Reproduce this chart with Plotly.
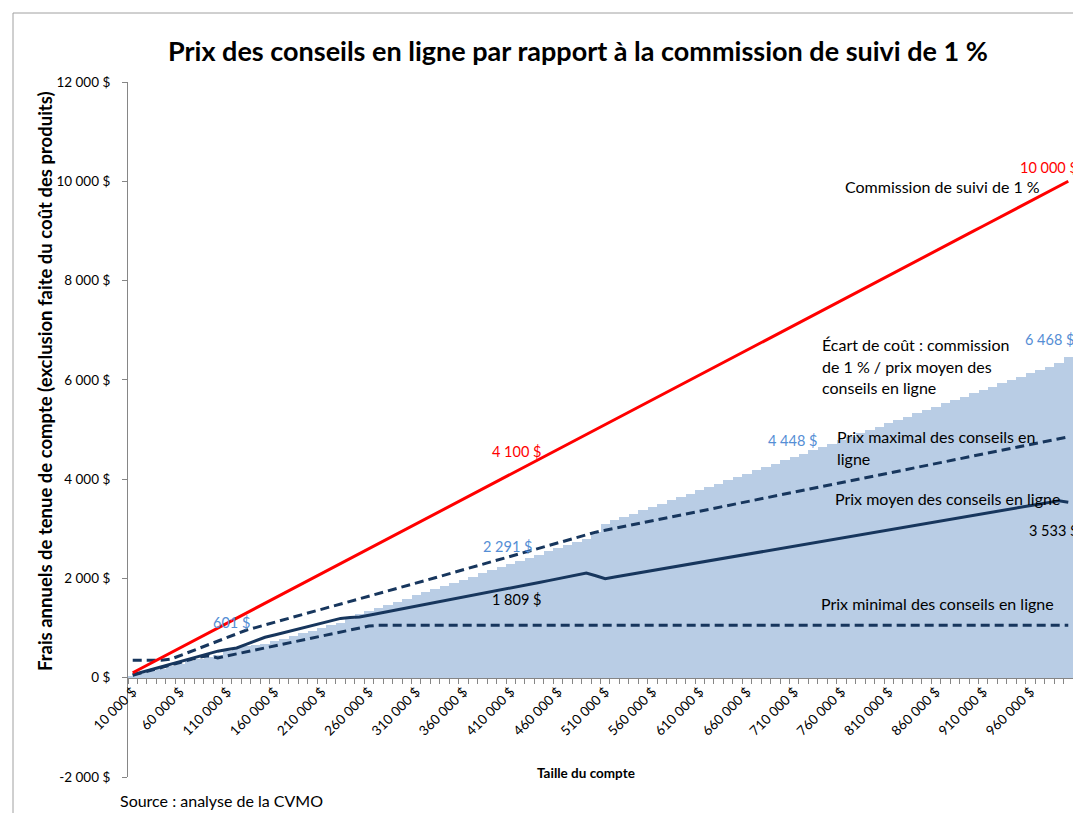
import plotly.graph_objects as go

# ---------------- data ----------------
account_sizes = [
    10000, 20000, 30000, 40000, 50000, 60000, 70000, 80000, 90000, 100000,
    110000, 120000, 130000, 140000, 150000, 160000, 170000, 180000, 190000, 200000,
    210000, 220000, 230000, 240000, 250000, 260000, 270000, 280000, 290000, 300000,
    310000, 320000, 330000, 340000, 350000, 360000, 370000, 380000, 390000, 400000,
    410000, 420000, 430000, 440000, 450000, 460000, 470000, 480000, 490000, 500000,
    510000, 520000, 530000, 540000, 550000, 560000, 570000, 580000, 590000, 600000,
    610000, 620000, 630000, 640000, 650000, 660000, 670000, 680000, 690000, 700000,
    710000, 720000, 730000, 740000, 750000, 760000, 770000, 780000, 790000, 800000,
    810000, 820000, 830000, 840000, 850000, 860000, 870000, 880000, 890000, 900000,
    910000, 920000, 930000, 940000, 950000, 960000, 970000, 980000, 990000, 1000000,
]

trailing_1pct = [
    100, 200, 300, 400, 500, 600, 700, 800, 900, 1000,
    1100, 1200, 1300, 1400, 1500, 1600, 1700, 1800, 1900, 2000,
    2100, 2200, 2300, 2400, 2500, 2600, 2700, 2800, 2900, 3000,
    3100, 3200, 3300, 3400, 3500, 3600, 3700, 3800, 3900, 4000,
    4100, 4200, 4300, 4400, 4500, 4600, 4700, 4800, 4900, 5000,
    5100, 5200, 5300, 5400, 5500, 5600, 5700, 5800, 5900, 6000,
    6100, 6200, 6300, 6400, 6500, 6600, 6700, 6800, 6900, 7000,
    7100, 7200, 7300, 7400, 7500, 7600, 7700, 7800, 7900, 8000,
    8100, 8200, 8300, 8400, 8500, 8600, 8700, 8800, 8900, 9000,
    9100, 9200, 9300, 9400, 9500, 9600, 9700, 9800, 9900, 10000,
]

avg_price = [
    60, 112, 164, 216, 268, 320, 372, 430, 485, 535,
    570, 599, 670, 745, 815, 862, 910, 958, 1006, 1054,
    1100, 1148, 1195, 1212, 1222, 1259, 1295, 1332, 1369, 1406,
    1442, 1479, 1516, 1552, 1589, 1626, 1662, 1699, 1736, 1772,
    1809, 1846, 1882, 1919, 1956, 1992, 2029, 2066, 2110, 2055,
    1995, 2028, 2061, 2094, 2126, 2159, 2192, 2225, 2258, 2291,
    2324, 2356, 2389, 2422, 2455, 2488, 2521, 2554, 2586, 2619,
    2652, 2685, 2717, 2750, 2783, 2815, 2848, 2880, 2913, 2946,
    2978, 3011, 3043, 3076, 3108, 3141, 3174, 3206, 3239, 3271,
    3304, 3337, 3369, 3402, 3434, 3467, 3500, 3532, 3565, 3533,
]

cost_gap = [
    40, 88, 136, 184, 232, 280, 328, 370, 415, 465,
    530, 601, 630, 655, 685, 738, 790, 842, 894, 946,
    1000, 1052, 1105, 1188, 1278, 1341, 1405, 1468, 1531, 1594,
    1658, 1721, 1784, 1848, 1911, 1974, 2038, 2101, 2164, 2228,
    2291, 2354, 2418, 2481, 2544, 2608, 2671, 2734, 2790, 2945,
    3105, 3172, 3239, 3306, 3374, 3441, 3508, 3575, 3642, 3709,
    3776, 3844, 3911, 3978, 4045, 4112, 4179, 4246, 4314, 4381,
    4448, 4515, 4583, 4650, 4717, 4785, 4852, 4920, 4987, 5054,
    5122, 5189, 5257, 5324, 5392, 5459, 5526, 5594, 5661, 5729,
    5796, 5863, 5931, 5998, 6066, 6133, 6200, 6268, 6335, 6468,
]

max_price = [
    350, 350, 350, 350, 372, 445, 518, 591, 664, 737,
    810, 883, 956, 1010, 1062, 1114, 1166, 1218, 1270, 1322,
    1374, 1426, 1478, 1530, 1582, 1636, 1690, 1744, 1798, 1852,
    1906, 1960, 2014, 2068, 2122, 2176, 2230, 2284, 2338, 2392,
    2446, 2500, 2554, 2608, 2662, 2716, 2770, 2824, 2878, 2932,
    2970, 3009, 3047, 3086, 3124, 3162, 3201, 3239, 3278, 3316,
    3354, 3393, 3431, 3470, 3508, 3546, 3585, 3623, 3662, 3700,
    3738, 3777, 3815, 3854, 3892, 3930, 3969, 4007, 4046, 4084,
    4122, 4161, 4199, 4238, 4276, 4314, 4353, 4391, 4430, 4468,
    4506, 4545, 4583, 4622, 4660, 4698, 4737, 4775, 4814, 4852,
]

min_price = [
    50, 100, 150, 200, 250, 300, 350, 410, 440, 400,
    440, 480, 520, 560, 600, 640, 680, 720, 760, 800,
    840, 880, 920, 960, 1000, 1040, 1058, 1058, 1058, 1058,
    1058, 1058, 1058, 1058, 1058, 1058, 1058, 1058, 1058, 1058,
    1058, 1058, 1058, 1058, 1058, 1058, 1058, 1058, 1058, 1058,
    1058, 1058, 1058, 1058, 1058, 1058, 1058, 1058, 1058, 1058,
    1058, 1058, 1058, 1058, 1058, 1058, 1058, 1058, 1058, 1058,
    1058, 1058, 1058, 1058, 1058, 1058, 1058, 1058, 1058, 1058,
    1058, 1058, 1058, 1058, 1058, 1058, 1058, 1058, 1058, 1058,
    1058, 1058, 1058, 1058, 1058, 1058, 1058, 1058, 1058, 1058,
]

x_tick_accounts = [10000, 60000, 110000, 160000, 210000, 260000, 310000, 360000,
                   410000, 460000, 510000, 560000, 610000, 660000, 710000, 760000,
                   810000, 860000, 910000, 960000]
x_tick_labels = ["10 000 $", "60 000 $", "110 000 $", "160 000 $", "210 000 $",
                 "260 000 $", "310 000 $", "360 000 $", "410 000 $", "460 000 $",
                 "510 000 $", "560 000 $", "610 000 $", "660 000 $", "710 000 $",
                 "760 000 $", "810 000 $", "860 000 $", "910 000 $", "960 000 $"]
y_tick_values = [-2000, 0, 2000, 4000, 6000, 8000, 10000, 12000]
y_tick_labels = ["-2 000 $", "0 $", "2 000 $", "4 000 $", "6 000 $", "8 000 $",
                 "10 000 $", "12 000 $"]

# ---------------- styling ----------------
FONT = "Lato"
NAVY = "#17365D"
RED = "#FF0000"
BAR = "#B9CDE5"
LBLUE = "#558ED5"
AXIS = "#868686"

OFF = 8                      # page body margin of the html page
W, H = 1081 - OFF, 813 - OFF
PL, PR, PT, PB = 128, 1073, 82, 777   # plot area in page pixels
ML, MT = PL - OFF, PT - OFF
MR = W - (PR - OFF)
MB = H - (PB - OFF)
PW, PH = PR - PL, PB - PT


def px(x):
    return (x - PL) / PW


def py(y):
    return (PB - y) / PH


idx = list(range(len(account_sizes)))

fig = go.Figure()
fig.add_trace(go.Bar(x=idx, y=cost_gap, width=1, marker=dict(color=BAR, line=dict(width=0)),
                     name="Écart de coût"))
fig.add_trace(go.Scatter(x=idx, y=min_price, mode="lines",
                         line=dict(color=NAVY, width=3, dash="9px,5px"), name="min"))
fig.add_trace(go.Scatter(x=idx, y=max_price, mode="lines",
                         line=dict(color=NAVY, width=3, dash="9px,5px"), name="max"))
fig.add_trace(go.Scatter(x=idx, y=avg_price, mode="lines",
                         line=dict(color=NAVY, width=3), name="moyen"))
fig.add_trace(go.Scatter(x=idx, y=trailing_1pct, mode="lines",
                         line=dict(color=RED, width=3), name="1 %"))

tickpos = [account_sizes.index(a) for a in x_tick_accounts]
ymin, ymax = y_tick_values[0], y_tick_values[-1]

fig.update_layout(
    width=W, height=H,
    margin=dict(l=ML, r=MR, t=MT, b=MB, pad=0),
    paper_bgcolor="white", plot_bgcolor="white",
    showlegend=False, bargap=0,
    font=dict(family=FONT, size=12, color="black"),
    xaxis=dict(
        range=[-0.5, len(idx) - 0.5], anchor="free",
        position=(0 - ymin) / (ymax - ymin),
        tickmode="array", tickvals=tickpos, ticktext=x_tick_labels,
        tickangle=-45, ticks="", showgrid=False, zeroline=False,
        showline=True, linecolor=AXIS, linewidth=1,
        tickfont=dict(family=FONT, size=13.5, color="black"),
        minor=dict(tickmode="array", tickvals=[i - 0.5 for i in range(len(idx) + 1)],
                   ticks="outside", ticklen=5, tickcolor=AXIS, tickwidth=1, showgrid=False),
    ),
    yaxis=dict(
        range=[ymin, ymax], tickmode="array", tickvals=y_tick_values,
        ticktext=y_tick_labels, ticks="outside", ticklen=5, tickcolor=AXIS,
        ticklabelstandoff=9,
        showline=True, linecolor=AXIS, linewidth=1, showgrid=False, zeroline=False,
        tickfont=dict(family=FONT, size=13.5, color="black"),
    ),
)

ann = []


def txt(text, x, y, size=16, color="black", xanchor="left", bold=False, angle=0):
    t = f"<b>{text}</b>" if bold else text
    ann.append(dict(text=t, x=px(x), y=py(y), xref="paper", yref="paper",
                    xanchor=xanchor, yanchor="middle", showarrow=False, textangle=angle,
                    font=dict(family=FONT, size=size, color=color)))


def dlabel(text, i, series, dx, dy, color, size=14.5):
    # data labels positioned from the series value, drawn in paper space
    ann.append(dict(text=text, x=px(PL + (i + 0.5) * PW / len(idx) + dx),
                    y=(series[i] - ymin) / (ymax - ymin), xref="paper", yref="paper",
                    xanchor="center", yanchor="middle", yshift=dy,
                    showarrow=False, font=dict(family=FONT, size=size, color=color)))


def money(v):
    return f"{v:,}".replace(",", " ") + " $"


# title and axis titles
txt("Prix des conseils en ligne par rapport à la commission de suivi de 1 %", 578, 50,
    size=27, xanchor="center", bold=True)
txt("Frais annuels de tenue de compte (exclusion faite du coût des produits)", 45, 381,
    size=18.5, xanchor="center", bold=True, angle=-90)
txt("Taille du compte", 586, 773, size=13.5, xanchor="center", bold=True)
txt("Source : analyse de la CVMO", 118, 800, size=16)

# series names
txt("Commission de suivi de 1 %", 843, 186)
txt("Écart de coût : commission", 820, 344)
txt("de 1 % / prix moyen des", 820, 366)
txt("conseils en ligne", 820, 388)
txt("Prix maximal des conseils en", 835, 436)
txt("ligne", 835, 458)
txt("Prix moyen des conseils en ligne", 833, 498)
txt("Prix minimal des conseils en ligne", 819, 603)

# data labels
i601 = cost_gap.index(601)
dlabel(money(cost_gap[i601]), i601, cost_gap, -5, 25, LBLUE)
dlabel(money(cost_gap[40]), 40, cost_gap, -3, 17, LBLUE)
dlabel(money(cost_gap[70]), 70, cost_gap, -2, 16, LBLUE)
dlabel(money(cost_gap[99]), 99, cost_gap, -19, 17, LBLUE)
dlabel(money(trailing_1pct[99]), 99, trailing_1pct, -19, 14, RED)
dlabel(money(trailing_1pct[40]), 40, trailing_1pct, 6, 23, RED)
dlabel(money(avg_price[40]), 40, avg_price, 6, -12, "black")
dlabel(money(avg_price[99]), 99, avg_price, -15, -28, "black")

fig.update_layout(annotations=ann)

# outer frame (top and left edges)
fig.add_shape(type="line", xref="paper", yref="paper", x0=px(13), x1=px(1081), y0=py(13), y1=py(13),
              line=dict(color="#A0A0A0", width=1))
fig.add_shape(type="line", xref="paper", yref="paper", x0=px(13), x1=px(13), y0=py(13), y1=py(813),
              line=dict(color="#A0A0A0", width=1))

fig.write_html(
    "out.html",
    post_script="document.documentElement.style.overflow='hidden';"
                "document.body.style.overflow='hidden';",
)
